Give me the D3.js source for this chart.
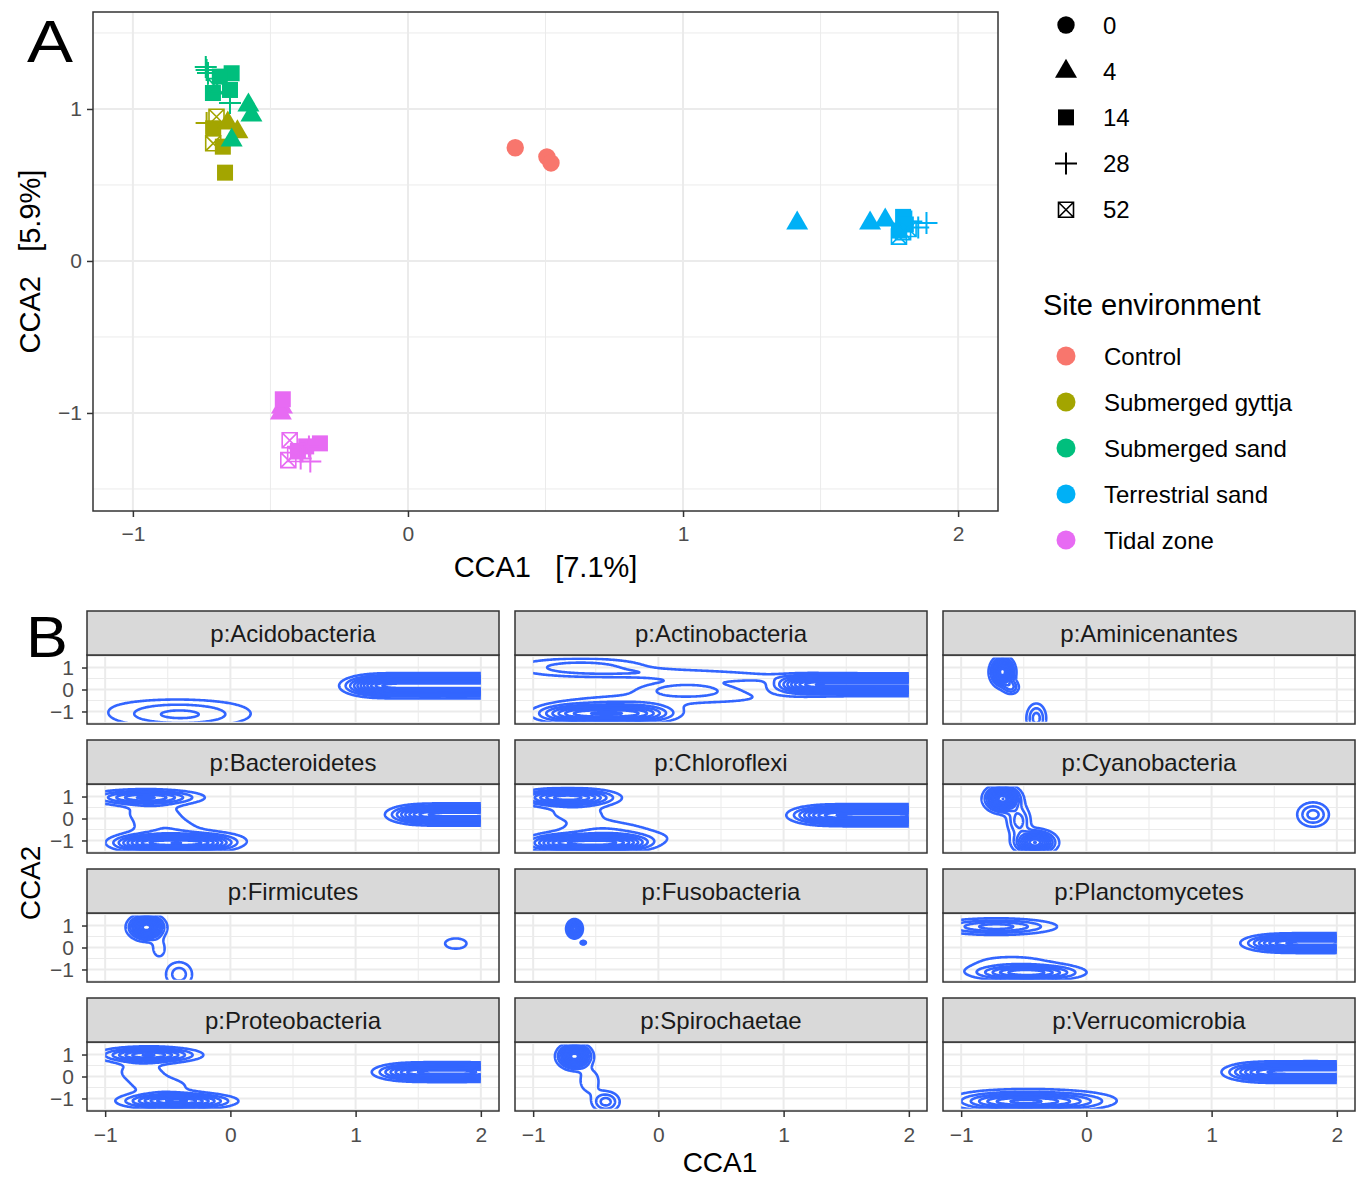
<!DOCTYPE html>
<html><head><meta charset="utf-8">
<script src="https://cdn.jsdelivr.net/npm/d3@7"></script>
<style>
body{margin:0;background:#fff;}
text{font-family:"Liberation Sans",Arial,Helvetica,sans-serif;}
</style></head>
<body><svg id="chart" width="1361" height="1177"></svg>
<script>
// ---------------- Panel A data ----------------
const siteNames = ["Control","Submerged gyttja","Submerged sand","Terrestrial sand","Tidal zone"];
const siteColors = ["#F8766D","#A3A500","#00BF7D","#00B0F6","#E76BF3"];
const dayLabels = ["0","4","14","28","52"];
// [day, CCA1, CCA2]
const controlPts = [[0,0.39,0.745],[0,0.505,0.685],[0,0.52,0.645]];
const gyttjaPts = [[52,-0.696,0.949],[14,-0.708,0.873],[4,-0.655,0.908],[14,-0.673,0.752],[52,-0.708,0.774],[14,-0.665,0.581],[28,-0.732,0.908],[4,-0.62,0.85]];
const sandPts = [[28,-0.735,1.276],[28,-0.732,1.256],[28,-0.727,1.237],[14,-0.641,1.235],[14,-0.684,1.213],[14,-0.709,1.105],[14,-0.647,1.125],[28,-0.647,1.04],[52,-0.70,1.15],[4,-0.58,1.026],[4,-0.569,0.96],[4,-0.641,0.796]];
const terrestrialPts = [[4,1.415,0.25],[4,1.68,0.25],[4,1.735,0.27],[14,1.80,0.29],[14,1.785,0.20],[14,1.81,0.24],[28,1.885,0.25],[28,1.855,0.22],[28,1.83,0.26],[52,1.785,0.16],[52,1.80,0.19],[52,1.82,0.21]];
const tidalPts = [[4,-0.458,-0.96],[4,-0.462,-1.0],[14,-0.455,-0.91],[14,-0.32,-1.2],[14,-0.37,-1.22],[14,-0.40,-1.25],[28,-0.36,-1.22],[28,-0.355,-1.32],[28,-0.39,-1.30],[52,-0.43,-1.18],[52,-0.435,-1.31],[52,-0.41,-1.27]];
const sitePoints = [controlPts, gyttjaPts, sandPts, terrestrialPts, tidalPts];
const axisTicks = [-1,0,1,2];
const axisTicksY = [-1,0,1];

// ---------------- Panel B data ----------------
// density components per phylum: [CCA1 centre, CCA2 centre, spread1, spread2, height]
const acidobacteria = [[-0.40,-1.20,0.36,0.36,3.0],[-0.45,-0.70,0.45,0.3,0.9],
  [1.15,0.17,0.14,0.26,7.5],[1.37,0.17,0.14,0.26,7.5],[1.59,0.17,0.14,0.26,7.5],[1.81,0.17,0.14,0.26,7.5],[2.03,0.17,0.14,0.26,7.5],[2.25,0.17,0.14,0.26,7.5]];
const actinobacteria = [[-0.62,1.02,0.36,0.28,2.6],[0.05,0.75,0.45,0.15,1.3],[0.6,0.55,0.4,0.15,1.3],
  [0.22,0.0,0.25,0.25,2.6],
  [-0.70,-1.1,0.18,0.25,5],[-0.42,-1.1,0.18,0.25,5],[-0.14,-1.1,0.18,0.25,5],[-0.3,-0.55,0.4,0.3,1.2],[0.65,-0.4,0.4,0.3,0.9],
  [1.15,0.22,0.14,0.24,6.5],[1.37,0.22,0.14,0.24,6.5],[1.59,0.22,0.14,0.24,6.5],[1.81,0.22,0.14,0.24,6.5],[2.03,0.22,0.14,0.24,6.5],[2.25,0.22,0.14,0.24,6.5]];
const aminicenantes = [[-0.67,0.80,0.05,0.35,12],[-0.60,0.10,0.04,0.2,3.0],[-0.40,-1.30,0.05,0.42,3.5]];
const bacteroidetes = [[-0.68,0.96,0.25,0.2,6],[-0.62,0.3,0.18,0.35,1.5],[-0.52,-0.4,0.2,0.35,1.5],
  [-0.70,-1.12,0.15,0.22,6],[-0.45,-1.12,0.15,0.22,6],[-0.20,-1.12,0.15,0.22,6],[-0.3,-0.9,0.35,0.3,1.2],
  [1.50,0.18,0.14,0.24,6],[1.72,0.18,0.14,0.24,6],[1.94,0.18,0.14,0.24,6],[2.16,0.18,0.14,0.24,6]];
const chloroflexi = [[-0.85,0.95,0.17,0.22,5],[-0.60,0.95,0.17,0.22,5],[-0.65,0.25,0.2,0.3,1.4],[-0.45,-0.45,0.25,0.3,1.4],
  [-0.80,-1.12,0.15,0.22,6],[-0.55,-1.12,0.15,0.22,6],[-0.30,-1.12,0.15,0.22,6],[-0.3,-0.85,0.4,0.3,1.2],
  [1.30,0.15,0.15,0.24,5.5],[1.52,0.15,0.15,0.24,5.5],[1.74,0.15,0.15,0.24,5.5],[1.96,0.15,0.15,0.24,5.5],[2.18,0.15,0.15,0.24,5.5]];
const cyanobacteria = [[-0.67,0.90,0.075,0.32,12],[-0.54,-0.10,0.06,0.45,3.5],[-0.41,-1.09,0.09,0.3,10],[1.81,0.18,0.08,0.35,3.5]];
const firmicutes = [[-0.67,0.92,0.075,0.30,12],[-0.57,-0.05,0.045,0.35,1.6],[-0.41,-1.22,0.075,0.4,2.6],[1.80,0.18,0.11,0.3,1.35]];
const fusobacteria = [[-0.67,0.85,0.03,0.2,12],[-0.60,0.22,0.012,0.05,4]];
const planctomycetes = [[-0.72,0.95,0.28,0.22,4.5],[-0.60,-1.15,0.2,0.2,4],[-0.35,-1.15,0.2,0.2,4],[-0.6,-0.65,0.35,0.35,1.2],
  [1.50,0.20,0.15,0.22,5],[1.72,0.20,0.15,0.22,5],[1.94,0.20,0.15,0.22,5],[2.16,0.20,0.15,0.22,5]];
const proteobacteria = [[-0.65,0.98,0.22,0.2,7],[-0.72,0.25,0.15,0.35,1.5],[-0.55,-0.45,0.2,0.35,1.5],[-0.55,-1.12,0.2,0.2,5],[-0.30,-1.12,0.2,0.2,5],
  [1.40,0.2,0.15,0.22,5],[1.62,0.2,0.15,0.22,5],[1.84,0.2,0.15,0.22,5],[2.06,0.2,0.15,0.22,5]];
const spirochaetae = [[-0.67,0.92,0.07,0.30,12],[-0.55,-0.2,0.06,0.4,2],[-0.42,-1.15,0.07,0.3,3.5]];
const verrucomicrobia = [[-0.70,-1.15,0.22,0.24,4],[-0.40,-1.15,0.22,0.24,4],[-0.10,-1.15,0.22,0.24,2.5],[-0.45,-0.85,0.45,0.3,1],
  [1.35,0.2,0.15,0.24,5],[1.57,0.2,0.15,0.24,5],[1.79,0.2,0.15,0.24,5],[2.01,0.2,0.15,0.24,5],[2.23,0.2,0.15,0.24,5]];
const facetNames = ["p:Acidobacteria","p:Actinobacteria","p:Aminicenantes","p:Bacteroidetes","p:Chloroflexi","p:Cyanobacteria",
  "p:Firmicutes","p:Fusobacteria","p:Planctomycetes","p:Proteobacteria","p:Spirochaetae","p:Verrucomicrobia"];
const facetData = [acidobacteria,actinobacteria,aminicenantes,bacteroidetes,chloroflexi,cyanobacteria,
  firmicutes,fusobacteria,planctomycetes,proteobacteria,spirochaetae,verrucomicrobia];

// ---------------- helpers ----------------
const svg = d3.select("#chart");
const GRID_MAJOR = "#EBEBEB", BORDER = "#333333", TICKTXT = "#4D4D4D";
const fmt = d => d < 0 ? "\u2212" + Math.abs(d) : String(d);

function drawShape(g, day, x, y, color, k = 1) {
  if (day === 0) {
    g.append("path").attr("d", d3.symbol(d3.symbolCircle, Math.PI * 8.7 * 8.7 * k * k)())
      .attr("transform", `translate(${x},${y})`).attr("fill", color);
  } else if (day === 4) {
    g.append("path").attr("d", `M${x},${y - 12.5 * k}L${x + 11 * k},${y + 6.5 * k}L${x - 11 * k},${y + 6.5 * k}Z`).attr("fill", color);
  } else if (day === 14) {
    g.append("rect").attr("x", x - 8 * k).attr("y", y - 8 * k).attr("width", 16 * k).attr("height", 16 * k).attr("fill", color);
  } else if (day === 28) {
    g.append("path").attr("d", `M${x - 11 * k},${y}H${x + 11 * k}M${x},${y - 11 * k}V${y + 11 * k}`)
      .attr("stroke", color).attr("stroke-width", 2).attr("fill", "none");
  } else {
    const h = 7.5 * k;
    g.append("path").attr("d", `M${x - h},${y - h}H${x + h}V${y + h}H${x - h}ZM${x - h},${y - h}L${x + h},${y + h}M${x + h},${y - h}L${x - h},${y + h}`)
      .attr("stroke", color).attr("stroke-width", 1.6).attr("fill", "none");
  }
}
function styleAxis(a) {
  a.select(".domain").remove();
  a.selectAll(".tick line").attr("stroke", BORDER).attr("stroke-width", 1.5);
  a.selectAll(".tick text").attr("fill", TICKTXT).style("font-size", "21px");
}

// ---------------- Panel A ----------------
const A = {l: 93, r: 998, t: 12, b: 511};
const xA = d3.scaleLinear().domain([-1.145, 2.145]).range([A.l, A.r]);
const yA = d3.scaleLinear().domain([-1.645, 1.638]).range([A.b, A.t]);
const gA = svg.append("g");
gA.append("rect").attr("x", A.l).attr("y", A.t).attr("width", A.r - A.l).attr("height", A.b - A.t).attr("fill", "#fff");
[-0.5, 0.5, 1.5].forEach(v => gA.append("line").attr("x1", xA(v)).attr("x2", xA(v)).attr("y1", A.t).attr("y2", A.b).attr("stroke", GRID_MAJOR).attr("stroke-width", 1));
[-1.5, -0.5, 0.5, 1.5].forEach(v => gA.append("line").attr("y1", yA(v)).attr("y2", yA(v)).attr("x1", A.l).attr("x2", A.r).attr("stroke", GRID_MAJOR).attr("stroke-width", 1));
axisTicks.forEach(v => gA.append("line").attr("x1", xA(v)).attr("x2", xA(v)).attr("y1", A.t).attr("y2", A.b).attr("stroke", GRID_MAJOR).attr("stroke-width", 2));
axisTicksY.forEach(v => gA.append("line").attr("y1", yA(v)).attr("y2", yA(v)).attr("x1", A.l).attr("x2", A.r).attr("stroke", GRID_MAJOR).attr("stroke-width", 2));
sitePoints.forEach((pts, si) => pts.forEach(p => drawShape(gA, p[0], xA(p[1]), yA(p[2]), siteColors[si])));
gA.append("rect").attr("x", A.l).attr("y", A.t).attr("width", A.r - A.l).attr("height", A.b - A.t)
  .attr("fill", "none").attr("stroke", BORDER).attr("stroke-width", 1.5);
styleAxis(gA.append("g").attr("transform", `translate(0,${A.b})`)
  .call(d3.axisBottom(xA).tickValues(axisTicks).tickFormat(fmt).tickSize(6).tickPadding(9)));
styleAxis(gA.append("g").attr("transform", `translate(${A.l},0)`)
  .call(d3.axisLeft(yA).tickValues(axisTicksY).tickFormat(fmt).tickSize(6).tickPadding(5)));
gA.append("text").attr("x", (A.l + A.r) / 2).attr("y", 577).attr("text-anchor", "middle")
  .style("font-size", "29px").style("white-space", "pre").text("CCA1   [7.1%]");
gA.append("text").attr("transform", `translate(40,${(A.t + A.b) / 2}) rotate(-90)`).attr("text-anchor", "middle")
  .style("font-size", "29px").style("white-space", "pre").text("CCA2   [5.9%]");
svg.append("text").attr("transform", "translate(27,62) scale(1.15,1)").style("font-size", "60px").text("A");

// legend: shapes
const legShape = svg.append("g");
dayLabels.forEach((lab, i) => {
  const cy = 25 + i * 46.2;
  drawShape(legShape, +lab, 1066, cy, "#000");
  legShape.append("text").attr("x", 1103).attr("y", cy + 8.5).style("font-size", "24px").attr("fill", "#000").text(lab);
});
legShape.append("text").attr("x", 1043).attr("y", 315).style("font-size", "29px").text("Site environment");
siteNames.forEach((s, i) => {
  const cy = 356 + i * 46;
  legShape.append("circle").attr("cx", 1066).attr("cy", cy).attr("r", 9.5).attr("fill", siteColors[i]);
  legShape.append("text").attr("x", 1104).attr("y", cy + 8.5).style("font-size", "24px").text(s);
});

// ---------------- Panel B ----------------
svg.append("text").attr("transform", "translate(26,657) scale(1.1,1)").style("font-size", "57px").text("B");
const colX = [87, 515, 943], PW = 412;
const rowTop = [611, 740, 869, 998], STRIP = 44, PH = 69;
const gx0 = -1.15, gx1 = 2.15, gy0 = -1.6, gy1 = 1.6, nx = 330, ny = 160;
const clipX = [-1.0, 2.0], clipY = [-1.47, 1.46];
const gridToX = d3.scaleLinear().domain([0, nx]).range([gx0, gx1]);
const gridToY = d3.scaleLinear().domain([0, ny]).range([gy1, gy0]);

function densityGrid(comps) {
  const vals = new Float64Array(nx * ny);
  for (let j = 0; j < ny; j++) {
    const y = gridToY(j + 0.5);
    for (let i = 0; i < nx; i++) {
      const x = gridToX(i + 0.5);
      let s = 0;
      for (const [cx, cy, sx, sy, a] of comps) {
        const dx = (x - cx) / sx, dy = (y - cy) / sy;
        s += a * Math.exp(-0.5 * (dx * dx + dy * dy));
      }
      vals[j * nx + i] = s;
    }
  }
  return vals;
}

facetNames.forEach((name, fi) => {
  const col = fi % 3, row = Math.floor(fi / 3);
  const x0 = colX[col], st = rowTop[row], pt = st + STRIP, pb = pt + PH;
  const xs = d3.scaleLinear().domain([-1.145, 2.145]).range([x0, x0 + PW]);
  const ys = d3.scaleLinear().domain([-1.57, 1.57]).range([pb, pt]);
  const g = svg.append("g");
  g.append("rect").attr("x", x0).attr("y", pt).attr("width", PW).attr("height", PH).attr("fill", "#fff");
  [-0.5, 0.5, 1.5].forEach(v => g.append("line").attr("x1", xs(v)).attr("x2", xs(v)).attr("y1", pt).attr("y2", pb).attr("stroke", GRID_MAJOR).attr("stroke-width", 1));
  [-1.5, -0.5, 0.5, 1.5].forEach(v => g.append("line").attr("y1", ys(v)).attr("y2", ys(v)).attr("x1", x0).attr("x2", x0 + PW).attr("stroke", GRID_MAJOR).attr("stroke-width", 1));
  axisTicks.forEach(v => g.append("line").attr("x1", xs(v)).attr("x2", xs(v)).attr("y1", pt).attr("y2", pb).attr("stroke", GRID_MAJOR).attr("stroke-width", 2));
  axisTicksY.forEach(v => g.append("line").attr("y1", ys(v)).attr("y2", ys(v)).attr("x1", x0).attr("x2", x0 + PW).attr("stroke", GRID_MAJOR).attr("stroke-width", 2));

  // contours
  const vals = densityGrid(facetData[fi]);
  const th = d3.ticks(0, d3.max(vals), 10).filter(t => t > 0);
  const contours = d3.contours().size([nx, ny]).thresholds(th)(vals);
  const proj = d3.geoTransform({point: function (gx, gy) { this.stream.point(xs(gridToX(gx)), ys(gridToY(gy))); }});
  const path = d3.geoPath(proj);
  const clipId = "clip" + fi;
  g.append("clipPath").attr("id", clipId).append("rect")
    .attr("x", xs(clipX[0])).attr("y", ys(clipY[1])).attr("width", xs(clipX[1]) - xs(clipX[0])).attr("height", ys(clipY[0]) - ys(clipY[1]));
  g.append("g").attr("clip-path", `url(#${clipId})`).selectAll("path").data(contours).join("path")
    .attr("d", path).attr("fill", "none").attr("stroke", "#3366FF").attr("stroke-width", 2.6).attr("stroke-linejoin", "round");

  g.append("rect").attr("x", x0).attr("y", pt).attr("width", PW).attr("height", PH).attr("fill", "none").attr("stroke", BORDER).attr("stroke-width", 1.5);
  // strip
  g.append("rect").attr("x", x0).attr("y", st).attr("width", PW).attr("height", STRIP).attr("fill", "#D9D9D9").attr("stroke", BORDER).attr("stroke-width", 1.5);
  g.append("text").attr("x", x0 + PW / 2).attr("y", st + STRIP / 2 + 8.5).attr("text-anchor", "middle").attr("fill", "#1A1A1A").style("font-size", "24px").text(name);

  if (col === 0) {
    styleAxis(g.append("g").attr("transform", `translate(${x0},0)`)
      .call(d3.axisLeft(ys).tickValues(axisTicksY).tickFormat(fmt).tickSize(5).tickPadding(8)));
  }
  if (row === 3) {
    styleAxis(g.append("g").attr("transform", `translate(0,${pb})`)
      .call(d3.axisBottom(xs).tickValues(axisTicks).tickFormat(fmt).tickSize(6).tickPadding(10)));
  }
});
svg.append("text").attr("x", 720).attr("y", 1172).attr("text-anchor", "middle").style("font-size", "28px").text("CCA1");
svg.append("text").attr("transform", `translate(40,883) rotate(-90)`).attr("text-anchor", "middle").style("font-size", "28px").text("CCA2");
</script></body></html>
